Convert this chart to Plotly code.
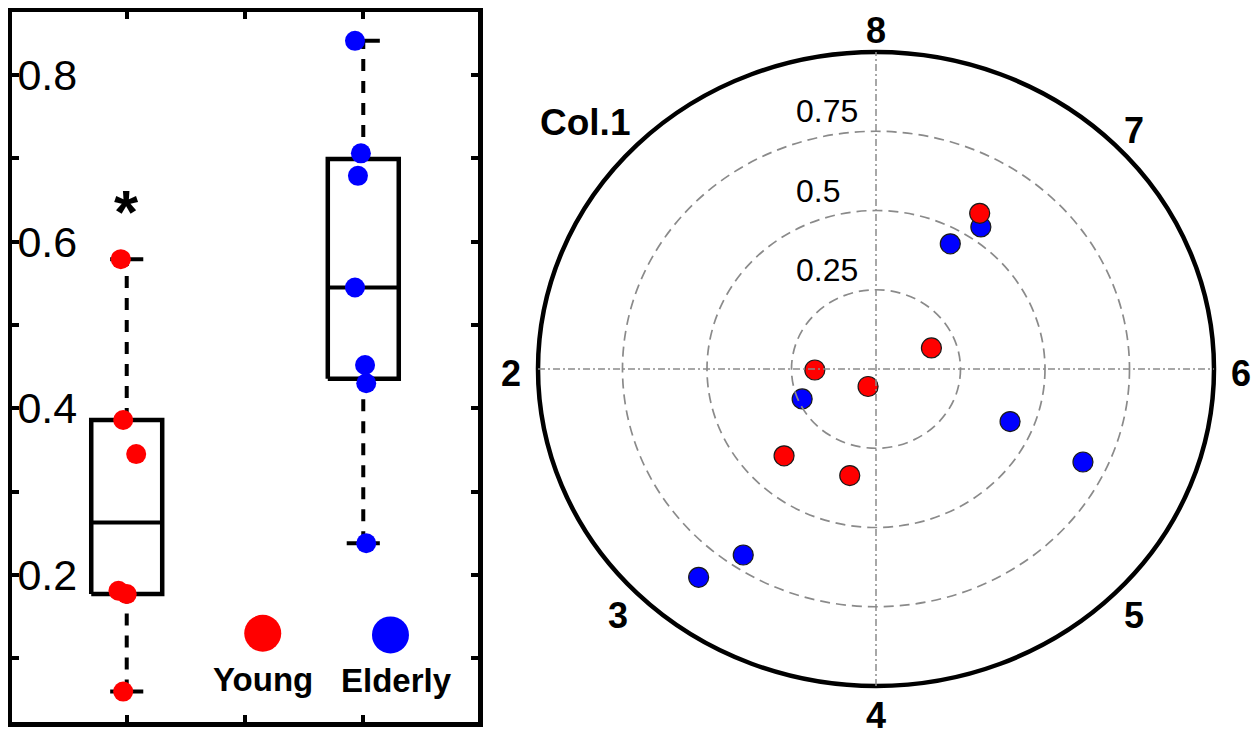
import numpy as np
import plotly.graph_objects as go

# ---------------- data ----------------
groups = ["Young", "Elderly"]
group_pos = [1, 3]
young_vals = [0.579, 0.386, 0.345, 0.181, 0.177, 0.060]
young_jitter = [-0.05, -0.03, 0.08, -0.07, 0.0, -0.03]
young_angle = [58.0, 225.2, 257.0, 181.0, 22.1, 247.0]
elderly_vals = [0.841, 0.706, 0.679, 0.545, 0.452, 0.430, 0.238]
elderly_jitter = [-0.07, -0.02, -0.045, -0.07, 0.015, 0.025, 0.025]
elderly_angle = [231.4, 236.2, 334.4, 55.3, 60.9, 337.3, 203.4]
group_colors = ["#FF0000", "#0000FF"]

y_tickvals = [0.1, 0.2, 0.3, 0.4, 0.5, 0.6, 0.7, 0.8]
y_ticktext = ["", "0.2", "", "0.4", "", "0.6", "", "0.8"]
x_tickvals = [1, 2, 3]

ring_r = [0.25, 0.5, 0.75]
ring_labels = ["0.25", "0.5", "0.75"]
spoke_angles = [135, 90, 45, 0, -45, -90, -135, 180]
spoke_labels = ["Col.1", "8", "7", "6", "5", "4", "3", "2"]

FONT = "Liberation Sans, Arial, sans-serif"
BOX_HALF = 0.30
CAP_HALF = 0.14

# page has an 8px body margin: size the figure to fit inside it
OFF = 8
W, H = 1260 - 2 * OFF, 743 - 2 * OFF

fig = go.Figure()

# ---------------- left panel: box plots ----------------
all_vals = [young_vals, elderly_vals]
all_jit = [young_jitter, elderly_jitter]
for vals, jit, pos, col in zip(all_vals, all_jit, group_pos, group_colors):
    v = np.array(vals)
    q1, med, q3 = np.percentile(v, [25, 50, 75], method="hazen")
    iqr = q3 - q1
    lo = v[v >= q1 - 1.5 * iqr].min()
    hi = v[v <= q3 + 1.5 * iqr].max()
    for ya, yb in ((q3, hi), (lo, q1)):
        fig.add_trace(go.Scatter(x=[pos, pos], y=[ya, yb], mode="lines",
                                 line=dict(color="black", width=4, dash="12px,10px"),
                                 showlegend=False, hoverinfo="skip", xaxis="x", yaxis="y"))
    for yy in (lo, hi):
        fig.add_trace(go.Scatter(x=[pos - CAP_HALF, pos + CAP_HALF], y=[yy, yy], mode="lines",
                                 line=dict(color="black", width=4),
                                 showlegend=False, hoverinfo="skip", xaxis="x", yaxis="y"))
    fig.add_trace(go.Scatter(x=[pos - BOX_HALF, pos + BOX_HALF, pos + BOX_HALF, pos - BOX_HALF, pos - BOX_HALF],
                             y=[q1, q1, q3, q3, q1], mode="lines",
                             line=dict(color="black", width=4.5),
                             showlegend=False, hoverinfo="skip", xaxis="x", yaxis="y"))
    fig.add_trace(go.Scatter(x=[pos - BOX_HALF, pos + BOX_HALF], y=[med, med], mode="lines",
                             line=dict(color="black", width=4),
                             showlegend=False, hoverinfo="skip", xaxis="x", yaxis="y"))
    fig.add_trace(go.Scatter(x=pos + np.array(jit), y=v, mode="markers",
                             marker=dict(color=col, size=20, line=dict(width=0)),
                             showlegend=False, hoverinfo="skip", xaxis="x", yaxis="y"))

# legend swatches (inside left panel)
legend_x = [2.15, 3.23]
legend_y = [0.130, 0.128]
for lx, ly, col, name in zip(legend_x, legend_y, group_colors, groups):
    fig.add_trace(go.Scatter(x=[lx], y=[ly], mode="markers",
                             marker=dict(color=col, size=37, line=dict(width=0)),
                             showlegend=False, hoverinfo="skip", xaxis="x", yaxis="y"))
    fig.add_annotation(x=lx + (0.05 if name == "Elderly" else 0.0), y=ly, xref="x", yref="y",
                       text="<b>%s</b>" % name, showarrow=False, yshift=-46,
                       font=dict(family=FONT, size=33, color="black"),
                       xanchor="center", yanchor="middle")

# significance star
fig.add_annotation(x=group_pos[0], y=0.648, xref="x", yref="y", text="<b>*</b>",
                   showarrow=False, yshift=-10, font=dict(family=FONT, size=62, color="black"),
                   xanchor="center", yanchor="middle")

# ---------------- right panel: polar-like ellipse ----------------
cx, cy, rx, ry = 876 - OFF, 369 - OFF, 338, 317
shapes = []
for r in ring_r:
    shapes.append(dict(type="circle", xref="x2", yref="y2", x0=-r, x1=r, y0=-r, y1=r,
                       line=dict(color="#8a8a8a", width=1.7, dash="10px,6px")))
shapes.append(dict(type="circle", xref="x2", yref="y2", x0=-1, x1=1, y0=-1, y1=1,
                   line=dict(color="black", width=4.5)))
shapes.append(dict(type="line", xref="x2", yref="y2", x0=-1, x1=1, y0=0, y1=0,
                   line=dict(color="#8a8a8a", width=1.5, dash="7px,3px,2px,3px")))
shapes.append(dict(type="line", xref="x2", yref="y2", x0=0, x1=0, y0=-1, y1=1,
                   line=dict(color="#8a8a8a", width=1.5, dash="7px,3px,2px,3px")))

for vals, ang, col in [(elderly_vals, elderly_angle, group_colors[1]),
                       (young_vals, young_angle, group_colors[0])]:
    r = np.array(vals)
    t = np.deg2rad(np.array(ang))
    fig.add_trace(go.Scatter(x=r * np.cos(t), y=r * np.sin(t), mode="markers",
                             marker=dict(color=col, size=20, line=dict(color="#1a1a1a", width=1.2)),
                             showlegend=False, hoverinfo="skip", xaxis="x2", yaxis="y2"))

for r, lab in zip(ring_r, ring_labels):
    fig.add_annotation(x=0, y=r, xref="x2", yref="y2", text=lab, showarrow=False,
                       xanchor="left", yanchor="middle", xshift=-82, yshift=20,
                       font=dict(family=FONT, size=32, color="black"))

for a, lab in zip(spoke_angles, spoke_labels):
    rr = 1.08
    th = np.deg2rad(a)
    if lab == "Col.1":
        fig.add_annotation(x=rr * np.cos(th), y=rr * np.sin(th), xref="x2", yref="y2",
                           text="<b>%s</b>" % lab, showarrow=False, xanchor="right",
                           yanchor="middle", xshift=14, yshift=4,
                           font=dict(family=FONT, size=37, color="black"))
    else:
        fig.add_annotation(x=rr * np.cos(th), y=rr * np.sin(th), xref="x2", yref="y2",
                           text="<b>%s</b>" % lab, showarrow=False, xanchor="center",
                           yanchor="middle", yshift=-4,
                           font=dict(family=FONT, size=36, color="black"))

# left panel plot area (reference px, inner edge of frame): x 12..478, y 12..722
lx0, lx1, ly0, ly1 = 12 - OFF, 478 - OFF, 12 - OFF, 722 - OFF
x2_left = 492

fig.update_layout(
    width=W, height=H, margin=dict(l=0, r=0, t=0, b=0),
    paper_bgcolor="white", plot_bgcolor="white",
    font=dict(family=FONT, color="black"),
    shapes=shapes,
    xaxis=dict(domain=[lx0 / W, lx1 / W], range=[0.03, 3.97], tickvals=x_tickvals,
               showticklabels=False, ticks="inside", ticklen=7, tickwidth=3.5, tickcolor="black",
               showline=True, linewidth=5, linecolor="black", mirror="ticks",
               showgrid=False, zeroline=False, fixedrange=True),
    yaxis=dict(domain=[(H - ly1) / H, (H - ly0) / H], range=[0.0235, 0.8756],
               tickvals=y_tickvals, ticktext=y_ticktext, ticks="inside", ticklen=7,
               tickwidth=3.5, tickcolor="black", ticklabelposition="inside",
               ticklabelstandoff=4,
               tickfont=dict(family=FONT, size=43, color="black"),
               showline=True, linewidth=5, linecolor="black", mirror="ticks",
               showgrid=False, zeroline=False, fixedrange=True),
    xaxis2=dict(domain=[x2_left / W, 1.0], range=[(x2_left - cx) / rx, (W - cx) / rx],
                visible=False, fixedrange=True),
    yaxis2=dict(domain=[0, 1], range=[(cy - H) / ry, cy / ry], anchor="x2",
                visible=False, fixedrange=True),
)

fig.write_html("out.html")
